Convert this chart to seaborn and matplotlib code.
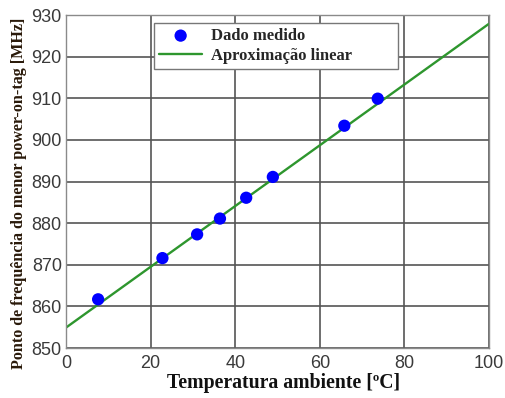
import numpy as np
import pandas as pd
import matplotlib
matplotlib.use("Agg")
import matplotlib.pyplot as plt
import seaborn as sns

# Measured points: ambient temperature (°C) vs. lowest power-on-tag frequency (MHz)
temperatura = [7.6, 22.8, 31.0, 36.4, 42.6, 48.9, 65.8, 73.7]
frequencia = [861.7, 871.6, 877.3, 881.1, 886.1, 891.1, 903.4, 909.9]

# Linear approximation coefficients (MHz per °C, MHz)
inclinacao = 0.73
intercepto = 854.9

x_ticks = [0, 20, 40, 60, 80, 100]
y_ticks = [850, 860, 870, 880, 890, 900, 910, 920, 930]

sns.set_theme(style="whitegrid")
plt.rcParams["font.family"] = ["Liberation Sans", "DejaVu Sans"]

medido = pd.DataFrame({"T": temperatura, "f": frequencia})
x_fit = np.array([x_ticks[0], x_ticks[-1]], dtype=float)
ajuste = pd.DataFrame({"T": x_fit, "f": intercepto + inclinacao * x_fit})

fig = plt.figure(figsize=(5.06, 3.98), dpi=100)
ax = fig.add_axes([0.1304, 0.1256, 0.836, 0.8367])

sns.scatterplot(data=medido, x="T", y="f", ax=ax, color="#0000ff", s=78,
                edgecolor="none", label="Dado medido", zorder=3)
sns.lineplot(data=ajuste, x="T", y="f", ax=ax, color="#2e962e", linewidth=1.7,
             label="Aproximação linear", zorder=2)

ax.set_xlim(x_ticks[0], x_ticks[-1])
ax.set_ylim(y_ticks[0], y_ticks[-1])
ax.set_xticks(x_ticks)
ax.set_yticks(y_ticks)
ax.grid(True, color="#555555", linewidth=1.2)
ax.set_axisbelow(True)
for s in ax.spines.values():
    s.set_color("#8a8a8a")
    s.set_linewidth(1.0)
ax.tick_params(axis="both", labelsize=13, labelcolor="#3a3a3a", length=0)
ax.tick_params(axis="x", pad=5)
ax.tick_params(axis="y", pad=3)

serif = ["Liberation Serif", "DejaVu Serif"]
ax.set_xlabel("Temperatura ambiente [ºC]", family=serif, fontweight="bold",
              fontsize=14.2, color="#111111")
ax.xaxis.set_label_coords(0.514, -0.076)
ax.set_ylabel("Ponto de frequência do menor power-on-tag [MHz]", family=serif,
              fontweight="bold", fontsize=11.6, color="#2a1a0a")
ax.yaxis.set_label_coords(-0.092, 0.465)

leg = ax.legend(loc="upper left", bbox_to_anchor=(0.208, 0.976, 0.577, 0.0),
                mode="expand", borderaxespad=0,
                fancybox=False, framealpha=1, edgecolor="#777777",
                prop={"family": serif, "weight": "bold", "size": 12},
                handlelength=2.6, borderpad=0.3, labelspacing=0.22,
                handletextpad=0.5)
leg.get_frame().set_linewidth(1.0)

fig.savefig("out.png", dpi=100)
